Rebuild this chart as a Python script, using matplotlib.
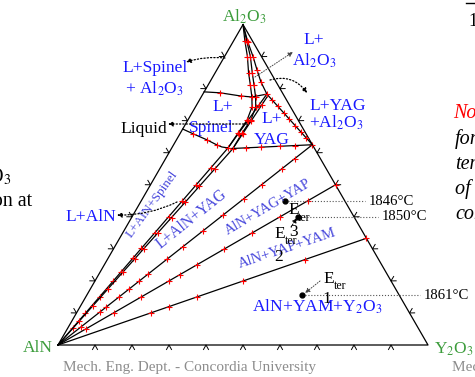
import numpy as np
import matplotlib.pyplot as plt

plt.rcParams['font.family'] = ['Liberation Serif', 'DejaVu Serif']
plt.rcParams['mathtext.fontset'] = 'stix'

# compositions are (Al2O3, Y2O3) mole fractions, AlN is the rest
yag = (0.625, 0.375)
yap = (0.5, 0.5)
yam = (0.333, 0.667)
spinel_pt = (0.615, 0.152)
spinel_pt2 = (0.612, 0.166)
peritectic = (0.783, 0.173)

# tie lines from AlN and the red points on them (fraction along the line)
tie_ends = [spinel_pt, spinel_pt2, yag, yap, yam]
tie_marks = [
    [0.086, 0.16, 0.245, 0.325, 0.37, 0.44, 0.49, 0.57, 0.65, 0.73, 0.81, 0.9],
    [0.12, 0.2, 0.285, 0.37, 0.44, 0.49, 0.57, 0.65, 0.73, 0.81, 0.9],
    [0.09, 0.165, 0.19, 0.24, 0.28, 0.32, 0.355, 0.43, 0.49, 0.57, 0.65,
     0.73, 0.80, 0.88, 0.93, 1.0],
    [0.1, 0.2, 0.3, 0.4, 0.44, 0.5, 0.6, 0.7, 0.8, 0.9, 1.0],
    [0.3, 0.36, 0.45, 0.6, 0.8, 1.0],
]

curve_c1 = [(1, 0), (0.95, 0.03), (0.9, 0.062), (0.85, 0.09), (0.81, 0.115),
            (0.774, 0.137), (0.743, 0.153), (0.702, 0.160), (0.662, 0.156),
            spinel_pt]
curve_c2 = [(1, 0), (0.95, 0.035), (0.9, 0.07), (0.85, 0.10), (0.81, 0.125),
            (0.774, 0.147), (0.743, 0.163), (0.702, 0.170), (0.662, 0.167),
            spinel_pt2]
curve_c3 = [(1, 0), (0.946, 0.04), (0.899, 0.078), (0.858, 0.109),
            (0.821, 0.138), peritectic]
yag_left1 = [peritectic, spinel_pt]
yag_left2 = [(0.775, 0.178), spinel_pt2]
yag_right = [peritectic, yag]
yag_bottom = [(0.613, 0.16), yag]
bound_t1 = [(0.79, 0), (0.787, 0.045), (0.777, 0.106), (0.774, 0.137), peritectic]
bound_t2 = [(0.674, 0), (0.659, 0.036), (0.640, 0.083), (0.624, 0.118),
            (0.618, 0.134), spinel_pt]

red_marks = [
    (0.95, 0.03), (0.9, 0.062), (0.85, 0.09), (0.81, 0.115), (0.774, 0.137),
    (0.743, 0.153), (0.702, 0.160), (0.662, 0.156),
    (0.95, 0.035), (0.9, 0.07), (0.85, 0.10), (0.81, 0.125), (0.774, 0.147),
    (0.743, 0.163), (0.702, 0.170), (0.662, 0.167),
    (0.946, 0.04), (0.899, 0.078), (0.858, 0.109), (0.821, 0.138),
    (0.765, 0.196), (0.745, 0.222), (0.725, 0.247), (0.705, 0.272),
    (0.685, 0.298), (0.665, 0.323), (0.645, 0.349),
    (0.615, 0.20), (0.6175, 0.24), (0.620, 0.29), (0.6225, 0.33),
    (0.75, 0.169), (0.70, 0.163), (0.66, 0.158),
    (0.75, 0.176), (0.70, 0.1725), (0.66, 0.1695),
    (0.787, 0.045), (0.777, 0.106),
    (0.659, 0.036), (0.640, 0.083), (0.624, 0.118),
    spinel_pt, spinel_pt2, peritectic,
]

eutectics = [(0.156, 0.5815), (0.3995, 0.449), (0.449, 0.389)]
eut_temps = ['1861°C', '1850°C', '1846°C']
eut_names = ['1', '2', '3']


def tern(pts):
    pts = np.atleast_2d(np.array(pts, dtype=float))
    a, y = pts[:, 0], pts[:, 1]
    return y + a / 2, a * np.sqrt(3) / 2


def px(x, y):
    # layout helper: picture pixels -> triangle coordinates
    return (x - 58) / 370, (345 - y) / 370


fig = plt.figure(figsize=(4.75, 3.77), dpi=100)
ax = fig.add_axes([0, 0, 1, 1])
ax.set_xlim(-58 / 370, 417 / 370)
ax.set_ylim(-32 / 370, 345 / 370)
ax.axis('off')

lw = 0.9
ax.plot(*tern([(0, 0), (0, 1), (1, 0), (0, 0)]), color='k', lw=lw)

# chevrons along the three binary edges
corners = np.array([tern((0, 0)), tern((0, 1)), tern((1, 0))])[:, :, 0]
centre = corners.mean(axis=0)
h, w = 4.5 / 370, 2.5 / 370
for i0, i1 in [(0, 1), (2, 1), (0, 2)]:
    p0, p1 = corners[i0], corners[i1]
    u = (p1 - p0) / np.linalg.norm(p1 - p0)
    n = np.array([-u[1], u[0]])
    mid = (p0 + p1) / 2
    if np.dot(n, mid - centre) < 0:
        n = -n
    for f in np.arange(1, 10) / 10:
        p = p0 + f * (p1 - p0)
        arm = np.array([p + n * h + u * w, p, p + n * h - u * w])
        ax.plot(arm[:, 0], arm[:, 1], color='k', lw=0.7)

for end, marks in zip(tie_ends, tie_marks):
    ax.plot(*tern([(0, 0), end]), color='k', lw=lw)
    pts = [(t * end[0], t * end[1]) for t in marks]
    ax.plot(*tern(pts), ls='none', marker='+', color='red', ms=4, mew=0.8)

for c in [curve_c1, curve_c2, curve_c3, yag_left1, yag_left2, yag_right,
          yag_bottom, bound_t1, bound_t2]:
    ax.plot(*tern(c), color='k', lw=lw)

ax.plot(*tern(red_marks), ls='none', marker='+', color='red', ms=4, mew=0.8)

# ternary eutectic points
ex, ey = tern(eutectics)
line_end = [420, 378, 365]
for x0, y0, t, xe in zip(ex, ey, eut_temps, line_end):
    ax.plot([x0, px(xe, 0)[0]], [y0, y0], ls=':', color='#555555', lw=0.8)
    ax.text(px(xe + 4, 0)[0], y0, t, ha='left', va='center', size=10.6)
ax.plot(ex, ey, ls='none', marker='o', color='k', ms=3.5)

# corner names
green = '#3c9c3c'
ax.text(*px(244, 17), 'Al$_2$O$_3$', color=green, size=12.5, ha='center', va='center')
ax.text(*px(53, 348), 'AlN', color=green, size=12.5, ha='right', va='center')
ax.text(*px(434, 349), 'Y$_2$O$_3$', color=green, size=12.5, ha='left', va='center')

blue = '#1a1aff'
lblue = '#4848dc'


def label(s, x, y, **kw):
    kw.setdefault('color', blue)
    kw.setdefault('size', 12.6)
    ax.text(*px(x, y), s, ha='center', va='center', **kw)


label('L+Spinel', 155, 68)
label('+ Al$_2$O$_3$', 155, 89)
label('L+', 223, 107)
label('Spinel', 211, 128)
label('Liquid', 144, 129, color='k')
label('L+', 272, 119)
label('YAG', 272, 140)
label('L+', 314, 40)
label('Al$_2$O$_3$', 314, 61)
label('L+YAG', 338, 106)
label('+Al$_2$O$_3$', 336, 123)
label('L+AlN', 91, 217)
label('AlN+YAM+Y$_2$O$_3$', 317, 307)
label('L+AlN+Spinel', 152, 204, color=lblue, size=9.5, rotation=54)
label('L+AlN+YAG', 192, 219, color=lblue, size=11.2, rotation=38.5)
label('AlN+YAG+YAP', 268, 207, color=lblue, size=10.4, rotation=30.5)
label('AlN+YAP+YAM', 287, 248, color=lblue, size=10.5, rotation=18.5)

# E_ter labels
for (xe, ye), (xt, yt), (xn, yn), s in [((294, 210), (304, 218), (293, 232), '3'),
                                       ((280, 234), (291, 241), (279, 257), '2'),
                                       ((329, 279), (340, 286), (327, 299), '1')]:
    label('E', xe, ye, color='k', size=12.5)
    label('ter', xt, yt, color='k', size=8.5)
    label(s, xn, yn, color='k', size=12.5)


def arrow(x0, y0, x1, y1, rad=0.0, color='k', lw=0.9):
    ax.annotate('', xy=px(x1, y1), xytext=px(x0, y0),
                arrowprops=dict(arrowstyle='-|>', linestyle=':', color=color,
                                lw=lw, mutation_scale=7, shrinkA=0, shrinkB=0,
                                connectionstyle=f'arc3,rad={rad}'))


arrow(225, 58, 186, 62, rad=0.1)
arrow(247, 124, 168, 124)
arrow(255, 77, 293, 52, color='#444444', lw=0.7)
arrow(270, 80, 307, 93, rad=-0.35)
arrow(177, 202, 117, 215, rad=-0.12)
arrow(291, 227, 297, 218, lw=0.7)
arrow(320, 281, 305, 293, lw=0.7, color='#444444')

# slide text cut by the crop
grey = '#8c8c8c'
ax.text(*px(63, 368), 'Mech. Eng. Dept. - Concordia University', color=grey,
        size=11, ha='left', va='center')
ax.text(*px(452, 368), 'Mech. Eng. Dept.', color=grey, size=11, ha='left', va='center')
ax.text(*px(11, 177), 'Al$_2$O$_3$', size=14.5, ha='right', va='center')
ax.text(*px(32, 201), 'solution at', size=14.5, ha='right', va='center')
ax.plot([px(466, 0)[0], px(476, 0)[0]], [px(0, 3)[1]] * 2, color='k', lw=1)
ax.text(*px(468, 22), '1', size=13, ha='left', va='center')
ax.text(*px(453, 114), 'Note:', size=14.5, style='italic', color='red',
        ha='left', va='center')
for s, y in [('formation', 139), ('temperature', 164), ('of the', 189),
             ('composition', 214)]:
    ax.text(*px(455, y), s, size=14.5, style='italic', ha='left', va='center')

fig.savefig('out.png', dpi=100)
